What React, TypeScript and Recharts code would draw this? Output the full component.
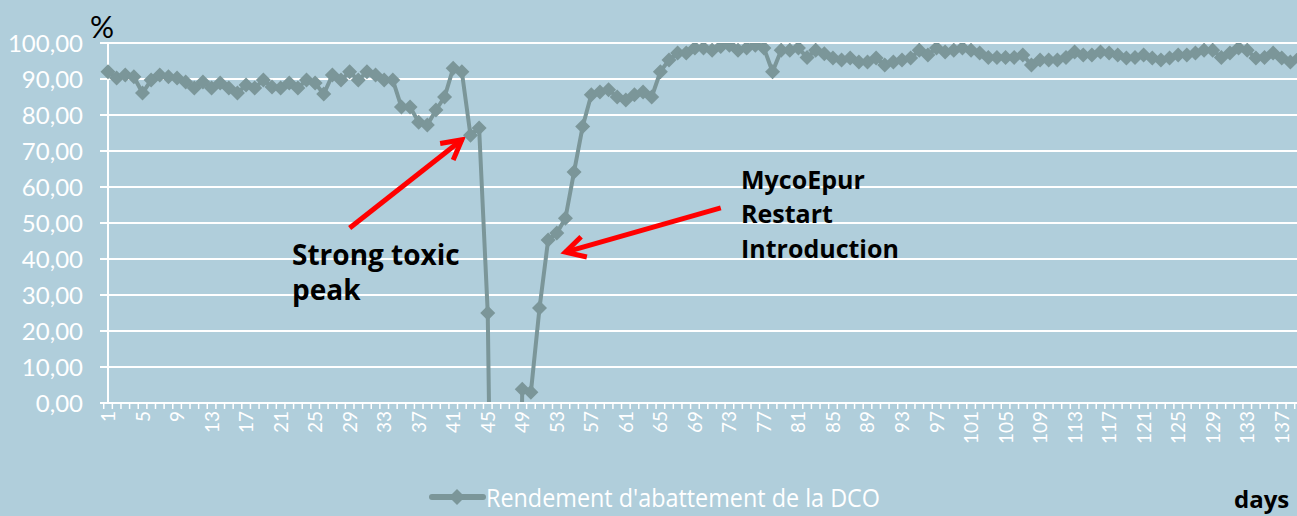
import React from 'react';
import { LineChart, Line, XAxis, YAxis, CartesianGrid, Legend, ReferenceLine } from 'recharts';

const BG = '#b0cedb';
const SERIES = '#7b9699';
const W = 1297;
const H = 516;
const CHART_W = 1310;
const PLOT_W = 1191;

// day 1..139
const days = Array.from({ length: 139 }, (_, i) => i + 1);

// Rendement d'abattement de la DCO (%)
// days 46-48 fall far below 0 and are clipped by the axis
const rendement = [
  92.0, 90.3, 91.1, 90.6, 86.1, 89.7, 91.1, 90.6, 90.3, 89.2,
  87.5, 89.2, 87.5, 88.9, 87.5, 86.1, 88.3, 87.5, 89.7, 87.8,
  87.5, 88.9, 87.5, 89.7, 88.9, 85.8, 91.1, 89.7, 92.0, 89.7,
  92.0, 91.1, 89.7, 89.7, 82.2, 82.2, 78.0, 77.2, 81.4, 85.0,
  93.0, 92.0, 74.4, 76.4, 25.0, -150, -250, -150, 3.8, 3.0,
  26.4, 45.3, 47.2, 51.3, 64.2, 76.8, 85.6, 86.4, 87.0, 85.0,
  84.2, 85.6, 86.4, 85.0, 92.0, 95.3, 97.2, 97.2, 98.6, 98.6,
  98.0, 99.0, 99.4, 98.0, 98.6, 99.4, 98.6, 92.0, 98.0, 98.0,
  98.6, 96.0, 98.0, 97.0, 95.8, 95.3, 95.8, 94.7, 94.7, 95.8,
  93.9, 94.7, 95.3, 95.8, 98.0, 96.7, 98.6, 97.5, 98.0, 98.6,
  98.0, 97.2, 96.0, 96.0, 96.0, 96.0, 96.7, 93.9, 95.3, 95.3,
  95.3, 96.0, 97.5, 96.7, 96.7, 97.5, 97.2, 96.7, 95.8, 96.0,
  96.7, 95.8, 95.3, 95.8, 96.7, 96.7, 97.2, 98.0, 98.0, 96.0,
  97.2, 98.6, 98.0, 95.8, 96.0, 97.2, 95.8, 94.7, 95.8,
];

const yTicks = [0, 10, 20, 30, 40, 50, 60, 70, 80, 90, 100];
const labelStep = 4;

// red arrows: [fromDay, fromValue, toDay, toValue]
const arrows = [
  [29, 48.6, 42, 73.1],
  [72, 54.2, 54, 41.9],
];

const data = days.map((d, i) => ({ day: d, rendement: rendement[i] }));

const fmt = (v: number) => v.toFixed(2).replace('.', ',');

const Diamond = (props: any) => {
  const { cx, cy, index } = props;
  if (cx == null || cy == null) return <g key={`d-${index}`} />;
  const r = 7.5;
  return (
    <polygon
      key={`d-${index}`}
      points={`${cx},${cy - r} ${cx + r},${cy} ${cx},${cy + r} ${cx - r},${cy}`}
      fill={SERIES}
    />
  );
};

const DayTick = (props: any) => {
  const { x, y, payload } = props;
  const half = PLOT_W / days.length / 2;
  const showLabel = (Number(payload.value) - 1) % labelStep === 0;
  const ty = y + 8;
  return (
    <g>
      <line x1={x - half} y1={y} x2={x - half} y2={y + 6} stroke="#fff" strokeWidth={1.5} />
      {showLabel && (
        <g transform={`translate(${x} ${ty}) rotate(-90)`}>
          <text
            x={0}
            y={0}
            dy={7}
            textAnchor="end"
            fill="#fff"
            style={{ fontSize: 19, fontFamily: 'Lato' }}
          >
            {payload.value}
          </text>
        </g>
      )}
    </g>
  );
};

const Arrow = (props: any) => {
  const { x1, y1, x2, y2 } = props;
  const a = Math.atan2(y2 - y1, x2 - x1);
  const len = 22;
  const spread = 0.5;
  const p1 = [x2 - len * Math.cos(a - spread), y2 - len * Math.sin(a - spread)];
  const p2 = [x2 - len * Math.cos(a + spread), y2 - len * Math.sin(a + spread)];
  return (
    <g>
      <line x1={x1} y1={y1} x2={x2} y2={y2} stroke="#ff0000" strokeWidth={5} />
      <polyline
        points={`${p1[0]},${p1[1]} ${x2},${y2} ${p2[0]},${p2[1]}`}
        fill="none"
        stroke="#ff0000"
        strokeWidth={5}
        strokeLinejoin="miter"
      />
    </g>
  );
};

const LegendBox = () => (
  <svg width={520} height={34}>
    <line x1={4} y1={17} x2={55} y2={17} stroke={SERIES} strokeWidth={6} strokeLinecap="round" />
    <polygon points="29,9 37,17 29,25 21,17" fill={SERIES} />
    <text
      x={58}
      y={27}
      fill="#fff"
      fontSize={26}
      fontFamily="Open Sans"
      textLength={394}
      lengthAdjust="spacingAndGlyphs"
    >
      Rendement d'abattement de la DCO
    </text>
  </svg>
);

export default function App() {
  return (
    <div
      style={{
        position: 'absolute',
        left: 0,
        top: 0,
        width: W,
        height: H,
        overflow: 'hidden',
        background: BG,
      }}
    >
      <LineChart width={CHART_W} height={H} data={data} margin={{ top: 43, right: 11, bottom: 53, left: 0 }}>
        <CartesianGrid vertical={false} stroke="#fff" strokeWidth={2} />
        <XAxis
          dataKey="day"
          type="category"
          interval={0}
          height={60}
          tickSize={0}
          tickMargin={0}
          tickLine={false}
          axisLine={{ stroke: '#fff', strokeWidth: 2 }}
          tick={<DayTick />}
        />
        <YAxis
          width={108}
          domain={[0, 100]}
          ticks={yTicks}
          allowDataOverflow
          tickFormatter={fmt}
          tickSize={8}
          tickMargin={17}
          tickLine={{ stroke: '#fff', strokeWidth: 2 }}
          axisLine={{ stroke: '#fff', strokeWidth: 2 }}
          tick={{ fill: '#fff', fontSize: 24, fontFamily: 'Lato' }}
        />
        {arrows.map((a, i) => (
          <ReferenceLine
            key={i}
            segment={[
              { x: a[0], y: a[1] },
              { x: a[2], y: a[3] },
            ]}
            shape={<Arrow />}
          />
        ))}
        <Line
          type="linear"
          dataKey="rendement"
          name="Rendement d'abattement de la DCO"
          stroke={SERIES}
          strokeWidth={4}
          dot={Diamond}
          activeDot={false}
          isAnimationActive={false}
        />
        <Legend
          verticalAlign="middle"
          align="center"
          layout="horizontal"
          wrapperStyle={{ left: 428, top: 480, width: 520, height: 34 }}
          content={() => <LegendBox />}
        />
      </LineChart>
      <svg
        width={W}
        height={H}
        style={{ position: 'absolute', left: 0, top: 0, pointerEvents: 'none' }}
      >
        <text x={90} y={38} fontSize={30} fontFamily="Lato" fill="#000">%</text>
        <text x={292} y={265} fontSize={28} fontWeight="bold" fontFamily="Open Sans" fill="#000">
          Strong toxic
        </text>
        <text x={292} y={300} fontSize={28} fontWeight="bold" fontFamily="Open Sans" fill="#000">
          peak
        </text>
        <text x={741} y={189} fontSize={25} fontWeight="bold" fontFamily="Open Sans" fill="#000">
          MycoEpur
        </text>
        <text x={741} y={223} fontSize={25} fontWeight="bold" fontFamily="Open Sans" fill="#000">
          Restart
        </text>
        <text x={741} y={258} fontSize={25} fontWeight="bold" fontFamily="Open Sans" fill="#000">
          Introduction
        </text>
        <text x={1234} y={508} fontSize={24} fontWeight="bold" fontFamily="Open Sans" fill="#000">
          days
        </text>
      </svg>
    </div>
  );
}
